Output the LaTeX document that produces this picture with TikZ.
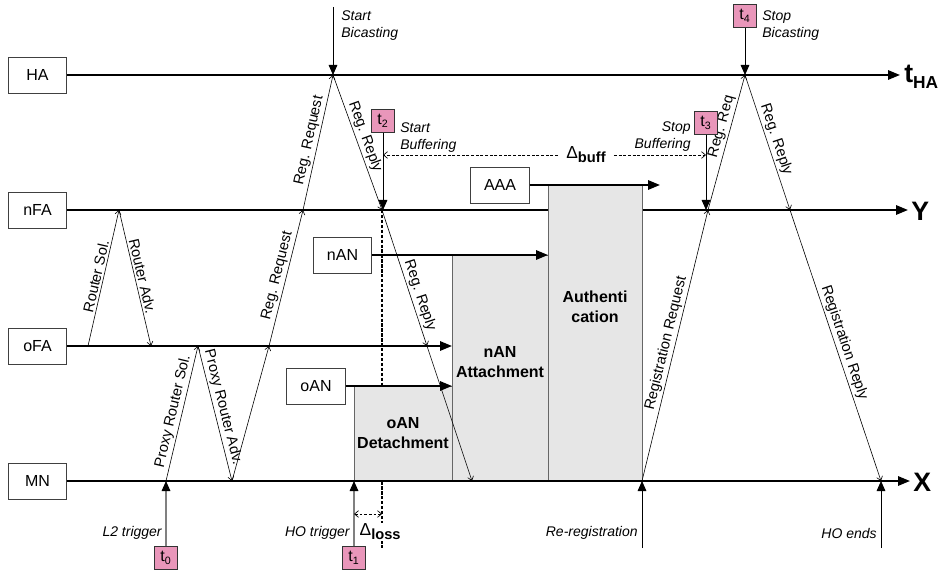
\documentclass[tikz,border=0pt]{standalone}
\usepackage{fontspec}
\setmainfont{Liberation Sans}
\usetikzlibrary{arrows.meta}
\definecolor{tpink}{RGB}{233,150,186}
\definecolor{phasegray}{RGB}{230,230,230}

\begin{document}
\begin{tikzpicture}[x=.75pt,y=-.75pt,line width=.5pt,
  lane/.style={line width=1.5pt},
  lanetip/.style={-{Triangle[length=9pt,width=7pt]}},
  entity/.style={draw=black!75,fill=white,line width=.6pt,minimum width=44pt,minimum height=27pt,inner sep=0pt,font=\fontsize{12}{14}\selectfont},
  tmark/.style={draw=black!80,fill=tpink,line width=.6pt,minimum size=17pt,inner sep=0pt,font=\fontsize{12}{14}\selectfont},
  msg/.style={line width=.45pt,-{Straight Barb[length=3pt,width=4.5pt]}},
  msglabel/.style={sloped,above,inner sep=1.5pt,font=\fontsize{11}{13}\selectfont},
  event/.style={line width=.6pt,-{Triangle[length=7.5pt,width=6.5pt]}},
  trigger/.style={line width=.8pt,draw=black!50,-{Triangle[length=7.5pt,width=6.5pt,black]}},
  note/.style={inner sep=0pt,font=\itshape\fontsize{10.5}{12.75}\selectfont},
  phase/.style={draw=black!60,fill=phasegray,line width=.6pt},
  phasetext/.style={align=center,font=\bfseries\fontsize{12}{14.6}\selectfont},
  axislabel/.style={anchor=west,inner sep=0pt,font=\bfseries\fontsize{20}{22}\selectfont},
  delta/.style={dashed,dash pattern=on 2.2pt off 1.3pt,line width=.5pt},
  deltatip/.tip={Straight Barb[length=3pt,width=5pt]}]
\path[use as bounding box] (0,0) rectangle (944,577);

% lanes
\node[entity] (ha) at (37.5,75) {HA};
\node[entity] (nfa) at (37.5,210) {nFA};
\node[entity] (ofa) at (37.5,346) {oFA};
\node[entity] (mn) at (37.5,481) {MN};
\coordinate (ha-end) at (900,75);
\coordinate (nfa-end) at (908,210);
\coordinate (ofa-end) at (452,346);
\coordinate (mn-end) at (910,481);
\draw[lane,lanetip] (ha) -- (ha-end);
\draw[lane,lanetip] (nfa) -- (nfa-end);
\draw[lane,lanetip] (ofa) -- (ofa-end);
\node[axislabel] (tha) at (904,77) {t\raisebox{-.45ex}{\fontsize{13}{15}\selectfont HA}};
\node[axislabel] (ylab) at (911,211) {Y};
\node[axislabel] (xlab) at (913,482) {X};

% loss interval
\coordinate (loss-top) at (382,210);
\coordinate (loss-bot) at (382,548);
\draw[line width=1pt,dash pattern=on 2.5pt off 1.2pt] (loss-top) -- (loss-bot);

% handover phases
\draw[phase] (354,386) rectangle (452,481);
\draw[phase] (452,255) rectangle (548,481);
\draw[phase] (548,185) rectangle (642,481);
\node[phasetext] (detach) at (403,433) {oAN\\Detachment};
\node[phasetext] (attach) at (500,362) {nAN\\Attachment};
\node[phasetext] (auth) at (595,307) {Authenti\\cation};
\draw[lane,lanetip] (mn) -- (mn-end);

\node[entity] (aaa) at (500,185) {AAA};
\node[entity] (nan) at (342.5,255) {nAN};
\node[entity] (oan) at (316,386) {oAN};
\coordinate (aaa-end) at (660,185);
\coordinate (nan-end) at (548,255);
\coordinate (oan-end) at (452,386);
\draw[lane,lanetip] (aaa) -- (aaa-end);
\draw[lane,lanetip] (nan) -- (nan-end);
\draw[lane,lanetip] (oan) -- (oan-end);

% messages
\coordinate (rs-a) at (88,346);
\coordinate (rs-b) at (119,210);
\coordinate (ra-b) at (151,346);
\coordinate (prs-a) at (166,481);
\coordinate (prs-b) at (198,346);
\coordinate (pra-b) at (232,481);
\coordinate (rq-b) at (269,346);
\coordinate (rq-c) at (303,210);
\coordinate (bic) at (333,75);
\coordinate (rp-b) at (382,210);
\coordinate (rp-c) at (427,346);
\coordinate (rp-d) at (472,481);
\coordinate (rr-a) at (642,481);
\coordinate (rr-b) at (708,210);
\coordinate (sbic) at (745,75);
\coordinate (rpl-b) at (790,210);
\coordinate (rpl-c) at (881,481);
\draw[msg] (rs-a) -- node[msglabel] {Router Sol.} (rs-b);
\draw[msg] (rs-b) -- node[msglabel] {Router Adv.} (ra-b);
\draw[msg] (prs-a) -- node[msglabel] {Proxy Router Sol.} (prs-b);
\draw[msg] (prs-b) -- node[msglabel,pos=.47] {Proxy Router Adv.} (pra-b);
\draw[msg] (pra-b) -- (rq-b);
\draw[msg] (rq-b) -- node[msglabel] {Reg. Request} (rq-c);
\draw[msg] (rq-c) -- node[msglabel] {Reg. Request} (bic);
\draw[msg] (bic) -- node[msglabel,pos=.48] {Reg. Reply} (rp-b);
\draw[msg] (rp-b) -- node[msglabel,pos=.65] {Reg. Reply} (rp-c);
\draw[msg] (rp-c) -- (rp-d);
\draw[msg] (rr-a) -- node[msglabel] {Registration Request} (rr-b);
\draw[msg] (rr-b) -- node[msglabel,pos=.6] {Reg. Req} (sbic);
\draw[msg] (sbic) -- node[msglabel] {Reg. Reply} (rpl-b);
\draw[msg] (rpl-b) -- node[msglabel] {Registration Reply} (rpl-c);

% events on top
\coordinate (bic-top) at (333,7);
\draw[event] (bic-top) -- (bic);
\node[note,anchor=west,align=left] (startbic) at (341,26) {Start\\Bicasting};
\node[tmark] (t4) at (745,16) {t\textsubscript{4}};
\draw[event] (t4) -- (sbic);
\node[note,anchor=west,align=left] (stopbic) at (762,26) {Stop\\Bicasting};
\node[tmark] (t2) at (383,121) {t\textsubscript{2}};
\coordinate (t2-hit) at (383,210);
\draw[event] (t2) -- (t2-hit);
\node[note,anchor=west,align=left] (startbuf) at (400,137.5) {Start\\Buffering};
\node[tmark] (t3) at (706,123) {t\textsubscript{3}};
\coordinate (t3-hit) at (706,210);
\draw[event] (t3) -- (t3-hit);
\node[note,anchor=east,align=right] (stopbuf) at (691,137) {Stop\\Buffering};
\node[inner sep=6pt,font=\fontsize{13}{15}\selectfont] (dbuff) at (586,155) {Δ\raisebox{-.45ex}{\bfseries\fontsize{11}{13}\selectfont buff}};
\coordinate (buff-l) at (383,155);
\coordinate (buff-r) at (706,155);
\draw[delta,-{deltatip}] (dbuff) -- (buff-l);
\draw[delta,-{deltatip}] (dbuff) -- (buff-r);

% events at the bottom
\node[tmark] (t0) at (166,558) {t\textsubscript{0}};
\draw[trigger] (t0) -- (prs-a);
\node[note,anchor=east] (l2) at (162,533) {L2 trigger};
\node[tmark] (t1) at (354,558) {t\textsubscript{1}};
\coordinate (ho-hit) at (354,481);
\draw[trigger] (t1) -- (ho-hit);
\node[note,anchor=east] (hotrig) at (350,533) {HO trigger};
\coordinate (dl-a) at (354,514);
\coordinate (dl-b) at (382,514);
\draw[delta,{deltatip}-{deltatip}] (dl-a) -- (dl-b);
\node[anchor=west,inner sep=1pt,fill=white,font=\fontsize{13}{15}\selectfont] (dloss) at (358,532) {Δ\raisebox{-.45ex}{\bfseries\fontsize{11}{13}\selectfont loss}};
\coordinate (rereg-bot) at (642,548);
\draw[event] (rereg-bot) -- (rr-a);
\node[note,anchor=east] (rereg) at (638,533) {Re-registration};
\coordinate (hoend-bot) at (881,548);
\draw[event] (hoend-bot) -- (rpl-c);
\node[note,anchor=east] (hoend) at (877,533) {HO ends};
\end{tikzpicture}
\end{document}
